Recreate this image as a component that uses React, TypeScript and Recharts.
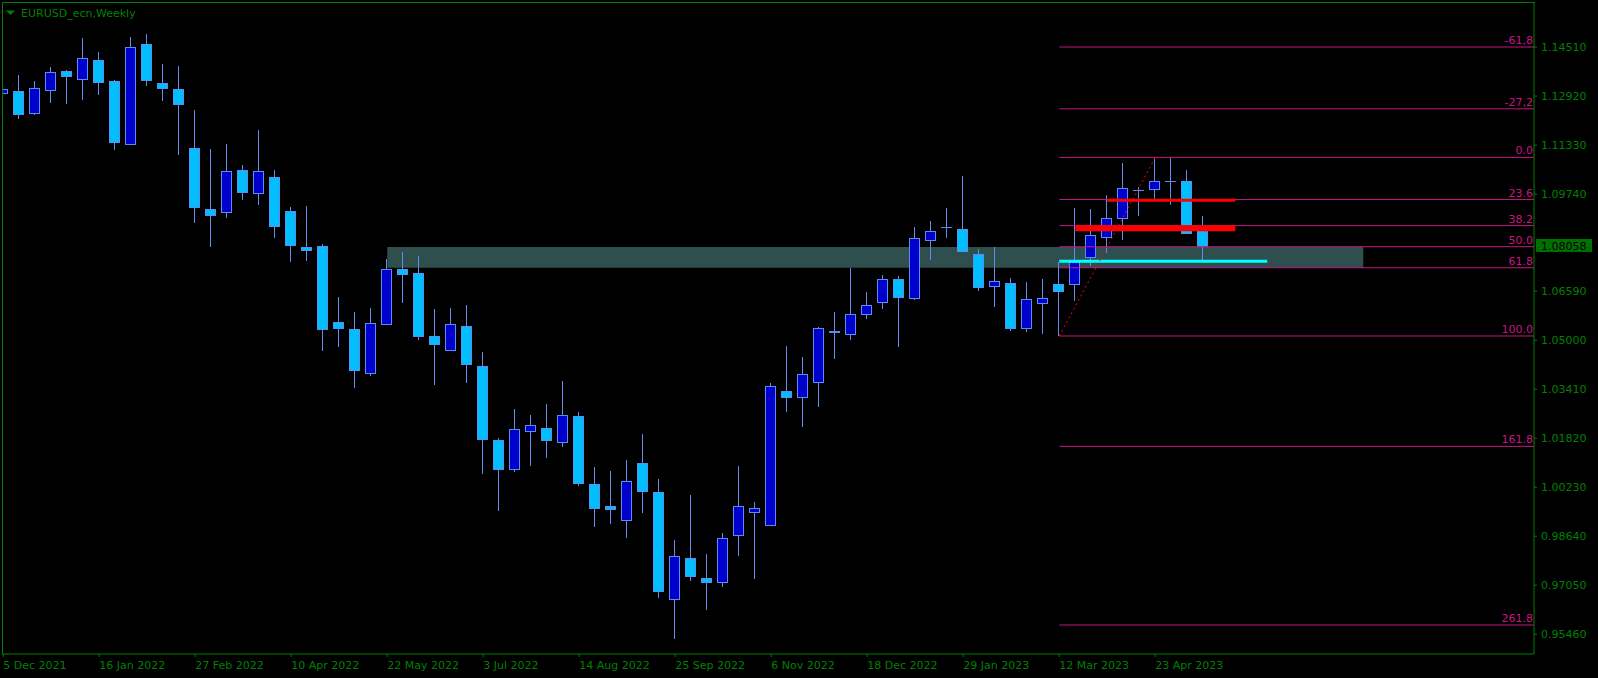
import React from 'react';
import { ComposedChart, Bar, XAxis, YAxis, ReferenceLine, ReferenceArea } from 'recharts';

// weekly EURUSD bars, week of 5 Dec 2021 = bar 0
const openPrices = [
  1.13011, 1.13076, 1.12362, 1.13108, 1.13735, 1.13485, 1.14082, 1.1341, 1.11376, 1.14611,
  1.13345, 1.13151, 1.11236, 1.09247, 1.09169, 1.10513, 1.09786, 1.10285, 1.09192, 1.08014,
  1.08056, 1.05591, 1.05363, 1.03946, 1.05535, 1.0731, 1.07181, 1.05136, 1.04692, 1.05461,
  1.04163, 1.01762, 1.00811, 1.02064, 1.02141, 1.01707, 1.02531, 1.00324, 0.99621, 0.99176,
  1.01006, 1.00065, 0.96613, 0.97924, 0.97275, 0.97164, 0.98689, 0.99436, 0.99014, 1.03352,
  1.03167, 1.03654, 1.05275, 1.05211, 1.0586, 1.06249, 1.06986, 1.06379, 1.08261, 1.08657,
  1.08608, 1.07797, 1.06768, 1.06856, 1.05406, 1.06217, 1.06824, 1.06833, 1.07709, 1.08358,
  1.08955, 1.09864, 1.09896, 1.10166, 1.10156, 1.08543,
];
const highPrices = [
  1.1353, 1.13595, 1.1341, 1.13864, 1.13767, 1.14805, 1.14351, 1.13443, 1.14838, 1.14935,
  1.13962, 1.13897, 1.12469, 1.11204, 1.11366, 1.10685, 1.1182, 1.10522, 1.09322, 1.09354,
  1.08121, 1.06402, 1.05915, 1.06045, 1.07625, 1.07862, 1.07732, 1.06012, 1.06045, 1.06142,
  1.04617, 1.01836, 1.02768, 1.02573, 1.0293, 1.03676, 1.0267, 1.00886, 1.00756, 1.01113,
  1.01957, 1.00497, 0.98517, 0.99978, 0.98063, 0.98745, 1.00918, 0.9975, 1.03611, 1.04812,
  1.04455, 1.05428, 1.05915, 1.07352, 1.06564, 1.07116, 1.07083, 1.08673, 1.08868, 1.09289,
  1.10328, 1.07959, 1.08024, 1.07018, 1.06888, 1.06986, 1.07537, 1.09289, 1.09257, 1.09711,
  1.1075, 1.09971, 1.10931, 1.10912, 1.10522, 1.0903,
];
const lowPrices = [
  1.12252, 1.12187, 1.12317, 1.12706, 1.12674, 1.12803, 1.12956, 1.11181, 1.11343, 1.13258,
  1.12771, 1.11019, 1.08812, 1.08034, 1.08975, 1.09559, 1.09396, 1.08326, 1.07547, 1.0757,
  1.04659, 1.04779, 1.03449, 1.03838, 1.05493, 1.06207, 1.05007, 1.03547, 1.0465, 1.03611,
  1.00659, 0.99458, 1.00724, 1.00918, 1.01178, 1.01535, 1.00279, 0.98939, 0.99036, 0.98582,
  0.99393, 0.96636, 0.95305, 0.97187, 0.96246, 0.96992, 0.97998, 0.97252, 0.98972, 1.0267,
  1.02184, 1.02833, 1.0439, 1.05007, 1.05688, 1.06012, 1.04779, 1.06304, 1.07602, 1.08316,
  1.07862, 1.06606, 1.06087, 1.05299, 1.05266, 1.05201, 1.05136, 1.06282, 1.07417, 1.07839,
  1.08261, 1.0904, 1.09581, 1.09396, 1.08469, 1.07602,
];
const closePrices = [
  1.13141, 1.1233, 1.13173, 1.13692, 1.13582, 1.14147, 1.13387, 1.11441, 1.14504, 1.13452,
  1.13193, 1.12674, 1.09332, 1.09072, 1.1048, 1.09818, 1.1048, 1.08715, 1.08099, 1.07936,
  1.05373, 1.05406, 1.04033, 1.05558, 1.0731, 1.07158, 1.05146, 1.04886, 1.05526, 1.04238,
  1.01804, 1.00831, 1.02119, 1.02239, 1.01772, 1.02563, 1.00377, 0.99565, 0.99533, 1.00422,
  1.00117, 0.96872, 0.97988, 0.97349, 0.97164, 0.98572, 0.99621, 0.99546, 1.03514, 1.03167,
  1.03903, 1.05386, 1.0529, 1.0585, 1.06142, 1.06986, 1.06411, 1.08316, 1.08543, 1.0866,
  1.07904, 1.06736, 1.06921, 1.05406, 1.06337, 1.06369, 1.06606, 1.07527, 1.08404, 1.08955,
  1.09929, 1.0987, 1.10156, 1.1017, 1.08469, 1.08058,
];

const dateTickIdx = [0, 6, 12, 18, 24, 30, 36, 42, 48, 54, 60, 66, 72];
const dateTickLabels = [
  '5 Dec 2021', '16 Jan 2022', '27 Feb 2022', '10 Apr 2022', '22 May 2022', '3 Jul 2022',
  '14 Aug 2022', '25 Sep 2022', '6 Nov 2022', '18 Dec 2022', '29 Jan 2023', '12 Mar 2023', '23 Apr 2023',
];
const priceTicks = [
  1.1451, 1.1292, 1.1133, 1.0974, 1.0659, 1.05, 1.0341, 1.0182, 1.0023, 0.9864, 0.9705, 0.9546,
];

// fibonacci retracement drawn from the March low to the April high
const fibLow = 1.05136;
const fibHigh = 1.10931;
const fibRatios = [-0.618, -0.272, 0, 0.236, 0.382, 0.5, 0.618, 1, 1.618, 2.618];
const fibLabels = ['-61,8', '-27,2', '0.0', '23.6', '38.2', '50.0', '61.8', '100.0', '161.8', '261.8'];

const zoneTop = 1.08024;
const zoneBottom = 1.07352;
const supportLevel = 1.0756;
const redLevels = [1.09539, 1.08631];
const redStarts = [69, 67];
const redWidths = [3, 6];
const lastPrice = 1.08058;

const GREEN = '#008000';
const FIB = '#C71585';
const FONT = '"DejaVu Sans", Verdana, sans-serif';

const data = openPrices.map((o, i) => ({
  i,
  open: o,
  high: highPrices[i],
  low: lowPrices[i],
  close: closePrices[i],
  range: [lowPrices[i], highPrices[i]],
}));

const Candle = (props: any) => {
  const { x, y, width, height, payload } = props;
  if (x == null || y == null) return null;
  const { open, close, high, low } = payload;
  const top = Math.min(y, y + height);
  const h = Math.abs(height);
  const ppx = h / (high - low);
  const cx = Math.floor(x + width / 2) + 0.5;
  const yO = top + (high - open) * ppx;
  const yC = top + (high - close) * ppx;
  const bTop = Math.round(Math.min(yO, yC)) + 0.5;
  const bBot = Math.round(Math.max(yO, yC)) + 0.5;
  const bull = close > open;
  const edge = '#5B8DEF';
  return (
    <g>
      <line x1={cx} x2={cx} y1={Math.round(top)} y2={Math.round(top + h)} stroke={edge} strokeWidth={1} />
      {bBot - bTop < 1 ? (
        <line x1={cx - 5.5} x2={cx + 5.5} y1={bTop} y2={bTop} stroke={edge} strokeWidth={1} />
      ) : (
        <rect x={cx - 5} y={bTop} width={10} height={bBot - bTop} fill={bull ? '#0000CD' : '#00BFFF'} stroke={edge} strokeWidth={1} />
      )}
    </g>
  );
};

const DateTick = (props: any) => {
  const { x, y, payload } = props;
  const k = dateTickIdx.indexOf(payload.value);
  return (
    <text x={x} y={y + 12} fill={GREEN} fontSize={11} fontFamily={FONT} textAnchor="start">
      {dateTickLabels[k]}
    </text>
  );
};

const fibLabel = (text: string) => (props: any) => {
  const vb = props.viewBox || {};
  return (
    <text x={vb.x + vb.width - 1} y={vb.y - 3} fill={FIB} fontSize={11} fontFamily={FONT} textAnchor="end">
      {text}
    </text>
  );
};

const priceLabel = (props: any) => {
  const vb = props.viewBox || {};
  const right = vb.x + vb.width;
  return (
    <g>
      <rect x={right + 2} y={vb.y - 7} width={56} height={13} fill="#007000" />
      <text x={right + 7} y={vb.y + 4} fill="#000" fontSize={11} fontFamily={FONT}>
        {lastPrice.toFixed(5)}
      </text>
    </g>
  );
};

export default function App() {
  const fibPrices = fibRatios.map((r) => fibHigh - r * (fibHigh - fibLow));
  return (
    <div style={{ position: 'absolute', left: 0, top: 0, width: 1598, height: 678, background: '#000', overflow: 'hidden' }}>
      <ComposedChart width={1598} height={678} data={data} margin={{ top: 2, right: 0, left: 2, bottom: 0 }}>
        <XAxis
          dataKey="i"
          type="number"
          domain={[-0.08, 95.67]}
          allowDataOverflow
          ticks={dateTickIdx}
          interval={0}
          height={24}
          tickSize={3}
          tickMargin={0}
          axisLine={{ stroke: GREEN }}
          tickLine={{ stroke: GREEN }}
          tick={<DateTick />}
        />
        <YAxis
          orientation="right"
          type="number"
          domain={[0.94818, 1.15973]}
          allowDataOverflow
          ticks={priceTicks}
          interval={0}
          width={64}
          tickSize={3}
          tickMargin={4}
          axisLine={{ stroke: GREEN }}
          tickLine={{ stroke: GREEN }}
          tick={{ fill: GREEN, fontSize: 11, fontFamily: FONT }}
          tickFormatter={(v: number) => v.toFixed(5)}
        />
        <ReferenceArea x1={24} x2={85} y1={zoneBottom} y2={zoneTop} fill="#2F4F4F" fillOpacity={1} stroke="none" />
        <Bar dataKey="range" shape={<Candle />} barSize={11} isAnimationActive={false} />
        {fibPrices.map((p, k) => (
          <ReferenceLine
            key={fibLabels[k]}
            segment={[{ x: 66, y: p }, { x: 95.67, y: p }]}
            stroke={FIB}
            strokeWidth={1}
            label={fibLabel(fibLabels[k])}
          />
        ))}
        {redLevels.map((p, k) => (
          <ReferenceLine
            key={'red' + k}
            segment={[{ x: redStarts[k], y: p }, { x: 77, y: p }]}
            stroke="#FF0000"
            strokeWidth={redWidths[k]}
          />
        ))}
        <ReferenceLine segment={[{ x: 66, y: supportLevel }, { x: 79, y: supportLevel }]} stroke="#00FFFF" strokeWidth={3} />
        <ReferenceLine
          segment={[{ x: 66, y: fibLow }, { x: 72, y: fibHigh }]}
          stroke="#FF0000"
          strokeWidth={1}
          strokeDasharray="2 3"
        />
        <ReferenceLine y={lastPrice} stroke="none" strokeOpacity={0} label={priceLabel} />
      </ComposedChart>
      <div style={{ position: 'absolute', left: 2, top: 2, width: 1532, height: 652, borderTop: `1px solid ${GREEN}`, borderLeft: `1px solid ${GREEN}`, pointerEvents: 'none' }} />
      <svg width={160} height={24} style={{ position: 'absolute', left: 0, top: 0 }}>
        <polygon points="6,10.5 15,10.5 10.5,15" fill={GREEN} />
        <text x={21} y={17} fill={GREEN} fontSize={11} fontFamily={FONT}>
          EURUSD_ecn,Weekly
        </text>
      </svg>
    </div>
  );
}
